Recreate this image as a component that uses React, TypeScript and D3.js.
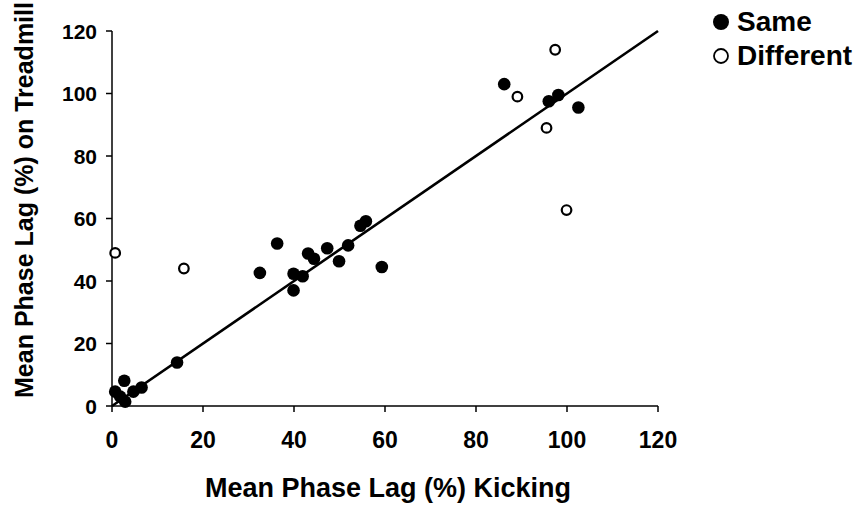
import React from "react";
import * as d3 from "d3";

const sameX = [0.7, 2.7, 1.8, 2.9, 4.7, 6.5, 14.3, 36.3, 32.5, 39.9, 41.9, 39.9, 43.1, 44.4, 47.3, 49.9, 51.9, 54.6, 55.8, 59.3, 86.2, 96.0, 98.1, 102.5];
const sameY = [4.6, 8.1, 3.0, 1.4, 4.6, 5.9, 13.9, 52.0, 42.6, 42.3, 41.5, 37.0, 48.8, 47.1, 50.5, 46.3, 51.4, 57.7, 59.1, 44.5, 103.0, 97.5, 99.5, 95.5];
const diffX = [0.7, 15.8, 89.1, 97.4, 95.5, 99.9];
const diffY = [49.0, 44.0, 99.0, 114.0, 89.0, 62.7];
const fitX = [0, 120];
const fitY = [0, 120];
const ticks = [0, 20, 40, 60, 80, 100, 120];
const legendLabels = ["Same", "Different"];
const xTitle = "Mean Phase Lag (%) Kicking";
const yTitle = "Mean Phase Lag (%) on Treadmill";

const FONT = "'Liberation Sans', Arial, sans-serif";

export default function App() {
  const x = d3.scaleLinear().domain([0, 120]).range([112, 658]);
  const y = d3.scaleLinear().domain([0, 120]).range([406, 31]);
  const line = d3
    .line<number>()
    .x((d) => x(fitX[d]))
    .y((d) => y(fitY[d]));
  return (
    <svg
      width={860}
      height={506}
      style={{ position: "absolute", left: 0, top: 0, background: "#fff" }}
      fontFamily={FONT}
      fontWeight="bold"
    >
      <rect width={860} height={506} fill="#fff" />
      {/* axes */}
      <line x1={x(0)} x2={x(0)} y1={y(0)} y2={y(120)} stroke="#000" strokeWidth={1.5} />
      <line x1={x(0)} x2={x(120)} y1={y(0)} y2={y(0)} stroke="#000" strokeWidth={1.5} />
      {ticks.map((t) => (
        <g key={"yt" + t}>
          <line x1={x(0) - 6} x2={x(0)} y1={y(t)} y2={y(t)} stroke="#000" strokeWidth={1.5} />
          <text x={x(0) - 15} y={y(t)} dy="0.36em" textAnchor="end" fontSize={21}>
            {t}
          </text>
        </g>
      ))}
      {ticks.map((t) => (
        <g key={"xt" + t}>
          <line x1={x(t)} x2={x(t)} y1={y(0)} y2={y(0) + 6} stroke="#000" strokeWidth={1.5} />
          <text x={x(t)} y={448} textAnchor="middle" fontSize={23}>
            {t}
          </text>
        </g>
      ))}
      <text x={388} y={497} textAnchor="middle" fontSize={27}>
        {xTitle}
      </text>
      <text transform={`translate(33,200) rotate(-90)`} textAnchor="middle" fontSize={25}>
        {yTitle}
      </text>
      {/* fit line */}
      <path d={line([0, 1]) || ""} fill="none" stroke="#000" strokeWidth={2.6} />
      {/* points */}
      {sameX.map((v, i) => (
        <circle key={"s" + i} cx={x(v)} cy={y(sameY[i])} r={6.3} fill="#000" />
      ))}
      {diffX.map((v, i) => (
        <circle
          key={"d" + i}
          cx={x(v)}
          cy={y(diffY[i])}
          r={4.8}
          fill="#fff"
          stroke="#000"
          strokeWidth={2.2}
        />
      ))}
      {/* legend */}
      <circle cx={721} cy={22} r={8} fill="#000" />
      <text x={737} y={31} fontSize={28}>
        {legendLabels[0]}
      </text>
      <circle cx={721} cy={56} r={7} fill="#fff" stroke="#000" strokeWidth={1.8} />
      <text x={737} y={65} fontSize={28}>
        {legendLabels[1]}
      </text>
    </svg>
  );
}
